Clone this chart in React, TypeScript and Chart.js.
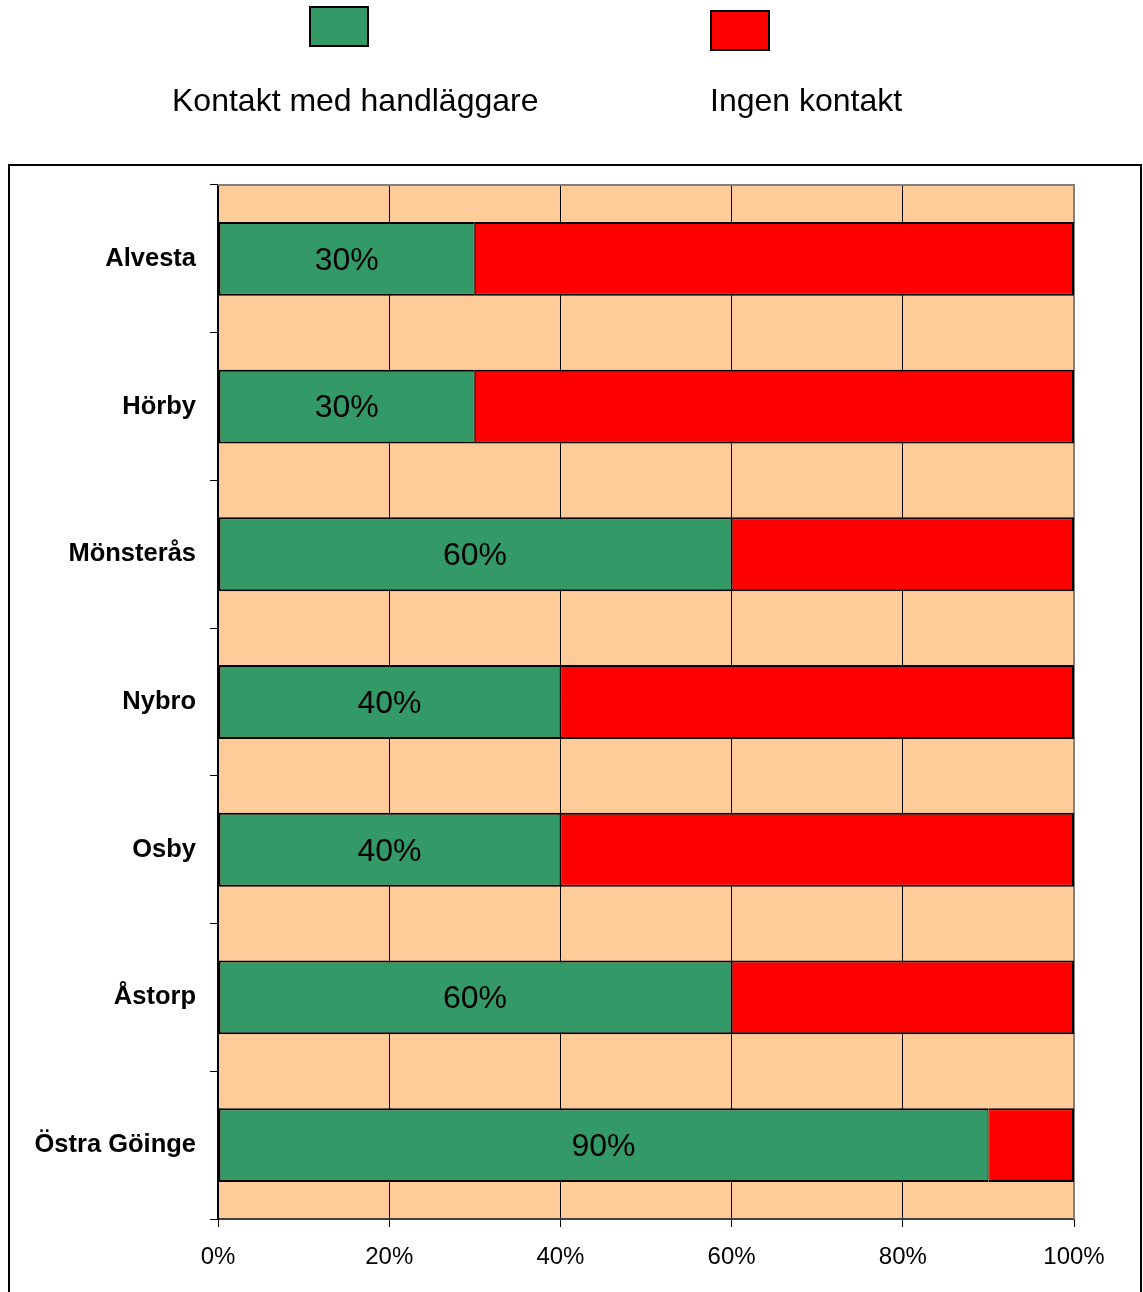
import React, { useEffect, useRef } from 'react';
import { Chart, registerables } from 'chart.js';

Chart.register(...registerables);

const categories = ['Alvesta', 'Hörby', 'Mönsterås', 'Nybro', 'Osby', 'Åstorp', 'Östra Göinge'];
const contactValues = [30, 30, 60, 40, 40, 60, 90];
const noContactValues = [70, 70, 40, 60, 60, 40, 10];
const seriesNames = ['Kontakt med handläggare', 'Ingen kontakt'];
const seriesColors = ['#339966', '#FF0000'];

const FONT = "'Liberation Sans', Arial, sans-serif";

const decorPlugin = {
  id: 'decor',
  beforeDraw(chart: any) {
    const { ctx, chartArea } = chart;
    const { left, top, right, bottom } = chartArea;
    ctx.save();
    ctx.fillStyle = '#ffffff';
    ctx.fillRect(0, 0, chart.width, chart.height);
    // outer frame
    ctx.strokeStyle = '#000';
    ctx.lineWidth = 2;
    ctx.strokeRect(9, 165, 1132, 1300);
    // plot background
    ctx.fillStyle = '#FFCC99';
    ctx.fillRect(left, top, right - left, bottom - top);
    // legend
    const boxes = [
      { x: 310, y: 7, text: 172 },
      { x: 711, y: 11, text: 710 },
    ];
    boxes.forEach((b, i) => {
      ctx.fillStyle = seriesColors[i];
      ctx.fillRect(b.x, b.y, 58, 39);
      ctx.strokeStyle = '#000';
      ctx.lineWidth = 2;
      ctx.strokeRect(b.x, b.y, 58, 39);
      ctx.fillStyle = '#000';
      ctx.font = `32px ${FONT}`;
      ctx.textAlign = 'left';
      ctx.textBaseline = 'alphabetic';
      ctx.fillText(seriesNames[i], b.text, 111);
    });
    ctx.restore();
  },
  beforeDatasetsDraw(chart: any) {
    const { ctx, chartArea } = chart;
    const { left, top, right, bottom } = chartArea;
    ctx.save();
    ctx.strokeStyle = '#808080';
    ctx.lineWidth = 2;
    ctx.beginPath();
    ctx.moveTo(left, top);
    ctx.lineTo(right, top);
    ctx.lineTo(right, bottom);
    ctx.stroke();
    ctx.restore();
  },
  afterDatasetsDraw(chart: any) {
    const { ctx } = chart;
    const meta = chart.getDatasetMeta(0);
    ctx.save();
    ctx.fillStyle = '#000';
    ctx.font = `32px ${FONT}`;
    ctx.textAlign = 'center';
    ctx.textBaseline = 'middle';
    meta.data.forEach((el: any, i: number) => {
      const { x, y, base } = el.getProps(['x', 'y', 'base'], true);
      ctx.fillText(`${contactValues[i]}%`, (x + base) / 2, y + 2);
    });
    ctx.restore();
  },
};

export default function App() {
  const ref = useRef<HTMLCanvasElement | null>(null);
  useEffect(() => {
    if (!ref.current) return;
    const chart = new Chart(ref.current, {
      type: 'bar',
      data: {
        labels: categories,
        datasets: [
          {
            label: seriesNames[0],
            data: contactValues,
            backgroundColor: seriesColors[0],
            borderColor: '#000',
            borderWidth: { top: 2, bottom: 2, left: 2, right: 1 },
            borderSkipped: false,
            barPercentage: 0.5,
            categoryPercentage: 1,
          },
          {
            label: seriesNames[1],
            data: noContactValues,
            backgroundColor: seriesColors[1],
            borderColor: '#000',
            borderWidth: { top: 2, bottom: 2, left: 1, right: 2 },
            borderSkipped: false,
            barPercentage: 0.5,
            categoryPercentage: 1,
          },
        ],
      },
      options: {
        indexAxis: 'y',
        responsive: false,
        animation: false,
        devicePixelRatio: 1,
        layout: { padding: { left: 0, right: 69, top: 185, bottom: 0 } },
        plugins: {
          legend: { display: false },
          tooltip: { enabled: false },
          title: { display: false },
        },
        scales: {
          x: {
            stacked: true,
            min: 0,
            max: 100,
            afterFit: (s: any) => {
              s.height = 73;
            },
            ticks: {
              stepSize: 20,
              padding: 16,
              color: '#000',
              font: { family: FONT, size: 24 },
              callback: (v: any) => `${v}%`,
            },
            grid: { color: '#000', lineWidth: 1, tickLength: 8, drawTicks: true },
            border: { display: true, color: '#404040', width: 2 },
          },
          y: {
            stacked: true,
            afterFit: (s: any) => {
              s.width = 218;
            },
            ticks: {
              padding: 14,
              color: '#000',
              font: { family: FONT, size: 25.5, weight: 'bold' },
            },
            grid: {
              offset: true,
              drawOnChartArea: false,
              drawTicks: true,
              tickLength: 8,
              color: '#000',
              lineWidth: 1,
            },
            border: { display: true, color: '#000', width: 2 },
          },
        },
      },
      plugins: [decorPlugin],
    });
    return () => chart.destroy();
  }, []);
  return (
    <canvas
      ref={ref}
      width={1143}
      height={1292}
      style={{ position: 'absolute', left: 0, top: 0, width: 1143, height: 1292 }}
    />
  );
}
